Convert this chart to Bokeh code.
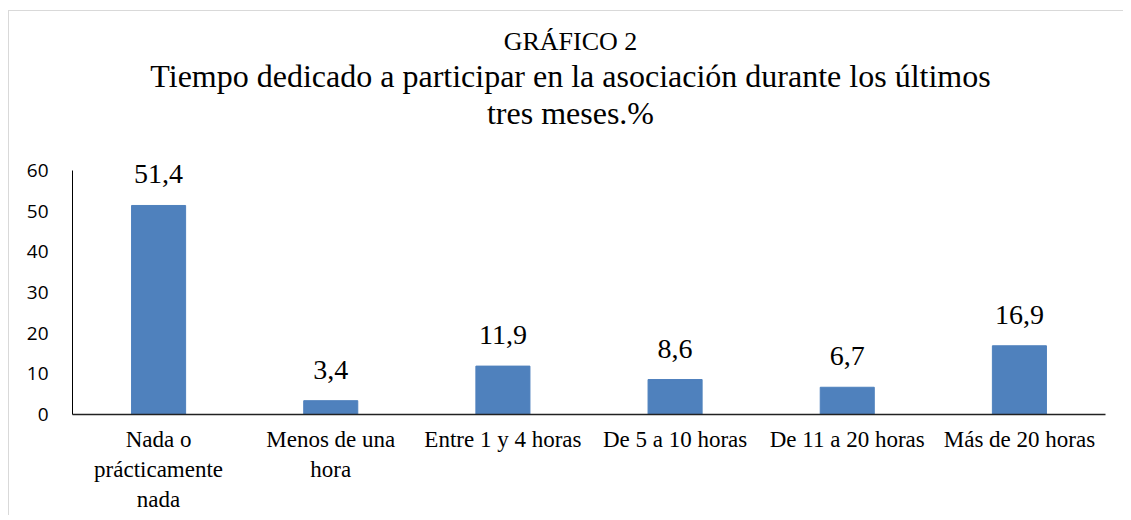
from bokeh.plotting import figure
from bokeh.models import FactorRange, Range1d, FixedTicker, ColumnDataSource
from bokeh.core.properties import value
from bokeh.embed import file_html
from bokeh.resources import INLINE

categories = ["Nada o\nprácticamente\nnada", "Menos de una\nhora", "Entre 1 y 4 horas",
              "De 5 a 10 horas", "De 11 a 20 horas", "Más de 20 horas"]
values = [51.4, 3.4, 11.9, 8.6, 6.7, 16.9]
y_ticks = [0, 10, 20, 30, 40, 50, 60]
title_lines = ["GRÁFICO 2",
               "Tiempo dedicado a participar en la asociación durante los últimos",
               "tres meses.%"]

# layout helpers (page pixel positions of the reference)
OX, OY = 9, 11           # figure origin on page (margin + border)
Y0_PAGE = 414            # page y of value 0
PX_PER_UNIT = 244 / 60   # pixels per y unit
FRAME_LEFT, FRAME_RIGHT = 72, 1105
W, H = 1115, 505

def ypos(page_y):
    return (Y0_PAGE - page_y) / PX_PER_UNIT

labels = [f"{v:.1f}".replace(".", ",") for v in values]
src = ColumnDataSource(dict(cat=categories, val=values, lab=labels))

y_top = ypos(OY)
p = figure(width=W, height=H, output_backend="svg", toolbar_location=None,
           x_range=FactorRange(*categories, range_padding=0), y_range=Range1d(0, y_top),
           min_border_left=FRAME_LEFT - OX, min_border_right=W - (FRAME_RIGHT - OX),
           min_border_top=0, min_border_bottom=H - (Y0_PAGE - OY))
p.styles = {"margin-left": "8px", "margin-top": "10px",
            "border-left": "1px solid #d9d9d9", "border-top": "1px solid #d9d9d9"}
p.outline_line_color = None
p.grid.grid_line_color = None
p.background_fill_color = "white"
p.border_fill_color = "white"

p.vbar(x="cat", top="val", width=0.314, source=src, color="#4F81BD")
p.text(x="cat", y="val", text="lab", source=src, text_align="center", text_baseline="alphabetic",
       y_offset=-31, text_font=value("Liberation Serif"), text_font_size="28px", text_color="#000000")

p.yaxis.ticker = FixedTicker(ticks=y_ticks)
p.yaxis.bounds = (0, 60)
p.yaxis.major_tick_line_color = None
p.yaxis.minor_tick_line_color = None
p.yaxis.major_tick_out = 0
p.yaxis.major_label_standoff = 24
p.yaxis.axis_line_color = "#000000"
p.yaxis.axis_line_width = 1
p.yaxis.major_label_text_font = "Open Sans"
p.yaxis.major_label_text_font_size = "19px"
p.yaxis.major_label_text_color = "#000000"

p.xaxis.major_tick_line_color = None
p.xaxis.minor_tick_line_color = None
p.xaxis.major_tick_out = 0
p.xaxis.major_label_standoff = 12
p.xaxis.axis_line_color = "#222222"
p.xaxis.axis_line_width = 1.5
p.xaxis.major_label_text_font = "Liberation Serif"
p.xaxis.major_label_text_font_size = "23px"
p.xaxis.major_label_text_color = "#000000"

# titles: centred at page x 570, anchored to the 4th category centre with a pixel offset
cat_w = (FRAME_RIGHT - FRAME_LEFT) / len(categories)
anchor_page_x = FRAME_LEFT + 3.5 * cat_w
tsrc = ColumnDataSource(dict(x=[categories[3]] * 3, y=[ypos(41), ypos(75), ypos(112)],
                             t=title_lines, s=["26px", "32px", "32px"]))
p.text(x="x", y="y", text="t", text_font_size="s", source=tsrc, x_offset=570 - anchor_page_x,
       text_align="center", text_baseline="alphabetic",
       text_font=value("Liberation Serif"), text_color="#000000")

open("out.html", "w").write(file_html(p, INLINE))
